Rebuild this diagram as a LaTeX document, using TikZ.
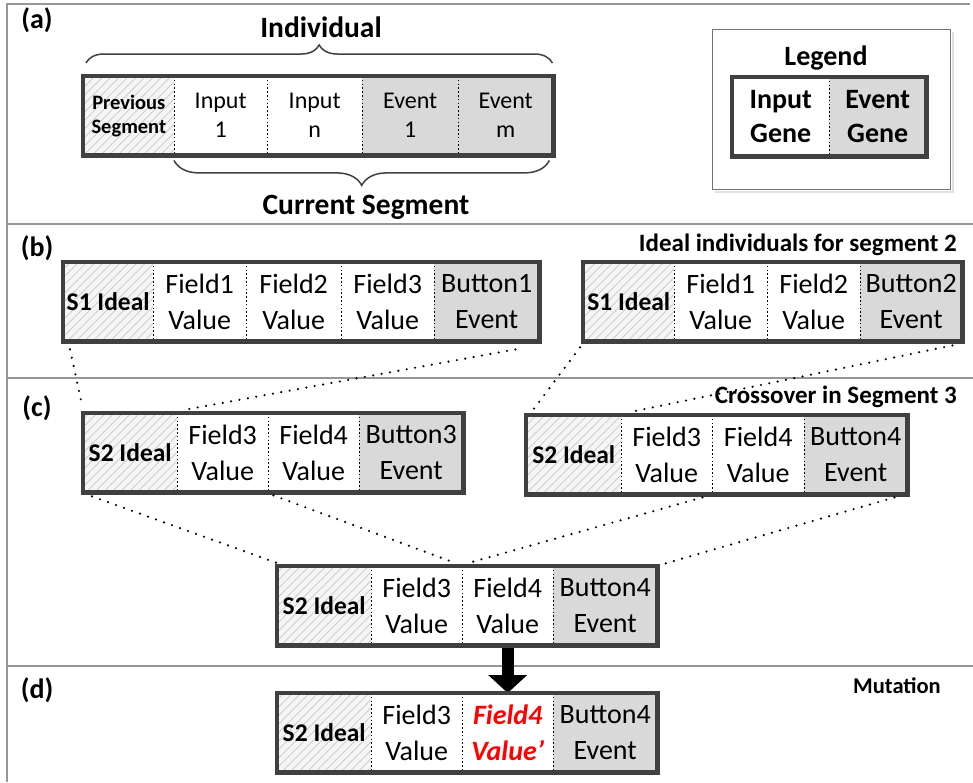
\documentclass[tikz,border=0pt]{standalone}
\usepackage{fontspec}
\setmainfont{Carlito}
\usetikzlibrary{patterns.meta,decorations.pathreplacing,arrows.meta}

\definecolor{barline}{RGB}{64,64,64}
\definecolor{eventfill}{RGB}{217,217,217}
\definecolor{framegray}{RGB}{150,150,150}

\tikzset{
  cell/.style={inner sep=0pt, minimum height=79pt, align=center,
    font=\fontsize{28}{36}\selectfont},
  inputcell/.style={cell, fill=white},
  eventcell/.style={cell, fill=eventfill},
  prevcell/.style={cell, preaction={fill=black!4},
    pattern={Lines[angle=45,distance=6pt,line width=0.7pt]}, pattern color=black!22,
    font=\bfseries\fontsize{25.5}{28}\selectfont},
  smallcell/.style={font=\fontsize{24}{29}\selectfont},
  legendcell/.style={font=\bfseries\fontsize{28}{34}\selectfont},
  mutated/.style={font=\bfseries\itshape\fontsize{28}{36}\selectfont, text=red},
  barframe/.style={draw=barline, line width=4.5pt},
  divider/.style={line width=1.4pt, dash pattern=on 1.6pt off 2.2pt},
  zoomline/.style={line width=2.4pt, line cap=round, dash pattern=on 0pt off 8.5pt},
  sectionrule/.style={draw=framegray, line width=1.8pt},
  paneltag/.style={font=\bfseries\fontsize{28}{34}\selectfont, inner sep=0pt},
  headline/.style={font=\bfseries\fontsize{29.5}{34}\selectfont, inner sep=0pt},
  note/.style={font=\bfseries\fontsize{25}{28}\selectfont, inner sep=0pt},
  bracestyle/.style={draw=barline, line width=1.5pt, decorate,
    decoration={brace, amplitude=#1}},
}

% one gene cell: name, left x, right x, top y, style, text
\newcommand{\genecell}[6]{%
  \node[#5, minimum width={(#3)-(#2)}, anchor=north west] (#1) at (#2,-#4) {#6};}
% dotted separators between neighbouring cells
\newcommand{\genesplit}[1]{%
  \foreach \c in {#1} {\draw[divider] (\c.north east) -- (\c.south east);}}

\begin{document}
\begin{tikzpicture}[x=1pt, y=1pt]
\useasboundingbox (0,0) rectangle (973,-782);
\fill[white] (0,0) rectangle (973,-782);

% panel frame and section rules
\draw[sectionrule] (7,-782) -- (7,-4) -- (970,-4);
\draw[sectionrule] (7,-224) -- (973,-224);
\draw[sectionrule] (7,-378) -- (973,-378);
\draw[sectionrule] (7,-666) -- (973,-666);

% panel tags
\node[paneltag] (tagA) at (37,-20) {(a)};
\node[paneltag] (tagB) at (37,-248) {(b)};
\node[paneltag] (tagC) at (37,-408) {(c)};
\node[paneltag] (tagD) at (37,-690) {(d)};

% (a) structure of an individual
\genecell{a1}{83}{174}{76}{prevcell, font=\bfseries\fontsize{20.5}{24}\selectfont}{Previous\\Segment}
\genecell{a2}{174}{267}{76}{inputcell, smallcell}{Input\\1}
\genecell{a3}{267}{362}{76}{inputcell, smallcell}{Input\\n}
\genecell{a4}{362}{458}{76}{eventcell, smallcell}{Event\\1}
\genecell{a5}{458}{553}{76}{eventcell, smallcell}{Event\\m}
\genesplit{a1,a2,a3,a4}
\draw[barframe] (a1.north west) rectangle (a5.south east);

\draw[bracestyle=18] ([xshift=3pt,yshift=13pt]a1.north west) -- ([xshift=-1pt,yshift=13pt]a5.north east);
\draw[bracestyle=25] ([xshift=-4pt,yshift=-5pt]a5.south east) -- ([yshift=-5pt]a2.south west);
\node[headline] (indiv) at (321,-27) {Individual};
\node[headline] (curseg) at (366,-207) {Current Segment};

% legend
\draw[black!12, line width=1.5pt] (953,-32) -- (953,-192) -- (715,-192);
\draw[black!55, line width=1pt] (712,-29) rectangle (950,-189);
\node[paneltag] (legtitle) at (826,-58) {Legend};
\genecell{g1}{732}{829}{77}{inputcell, legendcell}{Input\\Gene}
\genecell{g2}{829}{926}{77}{eventcell, legendcell}{Event\\Gene}
\genesplit{g1}
\draw[barframe] (g1.north west) rectangle (g2.south east);

% (b) ideal individuals of segment 1
\node[note, anchor=east] (idealnote) at (957,-245) {Ideal individuals for segment 2};
\genecell{bL1}{63}{153}{262}{prevcell}{S1 Ideal}
\genecell{bL2}{153}{246}{262}{inputcell}{Field1\\Value}
\genecell{bL3}{246}{341}{262}{inputcell}{Field2\\Value}
\genecell{bL4}{341}{434}{262}{inputcell}{Field3\\Value}
\genecell{bL5}{434}{539}{262}{eventcell}{Button1\\Event}
\genesplit{bL1,bL2,bL3,bL4}
\draw[barframe] (bL1.north west) rectangle (bL5.south east);

\genecell{bR1}{583}{674}{262}{prevcell}{S1 Ideal}
\genecell{bR2}{674}{767}{262}{inputcell}{Field1\\Value}
\genecell{bR3}{767}{860}{262}{inputcell}{Field2\\Value}
\genecell{bR4}{860}{962}{262}{eventcell}{Button2\\Event}
\genesplit{bR1,bR2,bR3}
\draw[barframe] (bR1.north west) rectangle (bR4.south east);

% (c) parents in segment 3 and their crossover child
\node[note, anchor=east] (crossnote) at (957,-397) {Crossover in Segment 3};
\genecell{cL1}{83}{177}{413}{prevcell}{S2 Ideal}
\genecell{cL2}{177}{268}{413}{inputcell}{Field3\\Value}
\genecell{cL3}{268}{359}{413}{inputcell}{Field4\\Value}
\genecell{cL4}{359}{463}{413}{eventcell}{Button3\\Event}
\genesplit{cL1,cL2,cL3}
\draw[barframe] (cL1.north west) rectangle (cL4.south east);

\genecell{cR1}{526}{621}{415}{prevcell}{S2 Ideal}
\genecell{cR2}{621}{712}{415}{inputcell}{Field3\\Value}
\genecell{cR3}{712}{804}{415}{inputcell}{Field4\\Value}
\genecell{cR4}{804}{907}{415}{eventcell}{Button4\\Event}
\genesplit{cR1,cR2,cR3}
\draw[barframe] (cR1.north west) rectangle (cR4.south east);

\genecell{x1}{277}{371}{566}{prevcell}{S2 Ideal}
\genecell{x2}{371}{462}{566}{inputcell}{Field3\\Value}
\genecell{x3}{462}{553}{566}{inputcell}{Field4\\Value}
\genecell{x4}{553}{657}{566}{eventcell}{Button4\\Event}

% (d) mutated child
\node[note, font=\bfseries\fontsize{22.5}{26}\selectfont] (mutnote) at (897,-686) {Mutation};
\genecell{m1}{277}{371}{693}{prevcell}{S2 Ideal}
\genecell{m2}{371}{462}{693}{inputcell}{Field3\\Value}
\genecell{m3}{462}{553}{693}{inputcell, mutated}{Field4\\Value’}
\genecell{m4}{553}{657}{693}{eventcell}{Button4\\Event}

% mutation arrow, then the child frames over its ends
\draw[line width=12pt, -{Triangle[width=38pt,length=18pt]}] (x3.south) -- (m3.north);
\genesplit{x1,x2,x3}
\draw[barframe] (x1.north west) rectangle (x4.south east);
\genesplit{m1,m2,m3}
\draw[barframe] (m1.north west) rectangle (m4.south east);

% dotted lines relating segments
\draw[zoomline] ([xshift=7pt,yshift=-8pt]bL1.south west) -- ([xshift=-1pt,yshift=8pt]cL1.north west);
\draw[zoomline] ([xshift=-24pt,yshift=-8pt]bL5.south east) -- ([xshift=6pt,yshift=3pt]cL1.north east);
\draw[zoomline] ([xshift=-3pt,yshift=-6pt]bR1.south west) -- ([xshift=7pt,yshift=5pt]cR1.north west);
\draw[zoomline] ([xshift=-10pt,yshift=-4pt]bR4.south east) -- ([xshift=9pt,yshift=3pt]cR1.north east);
\draw[zoomline] ([xshift=9pt,yshift=-4pt]cL1.south west) -- ([yshift=3pt]x1.north west);
\draw[zoomline] ([xshift=5pt,yshift=-3pt]cL2.south east) -- ([xshift=-7pt,yshift=3pt]x2.north east);
\draw[zoomline] ([xshift=-10pt,yshift=-3pt]cR2.south east) -- ([xshift=6pt,yshift=3pt]x2.north east);
\draw[zoomline] ([xshift=-13pt,yshift=-3pt]cR4.south east) -- ([xshift=6pt,yshift=2pt]x4.north east);
\end{tikzpicture}
\end{document}
